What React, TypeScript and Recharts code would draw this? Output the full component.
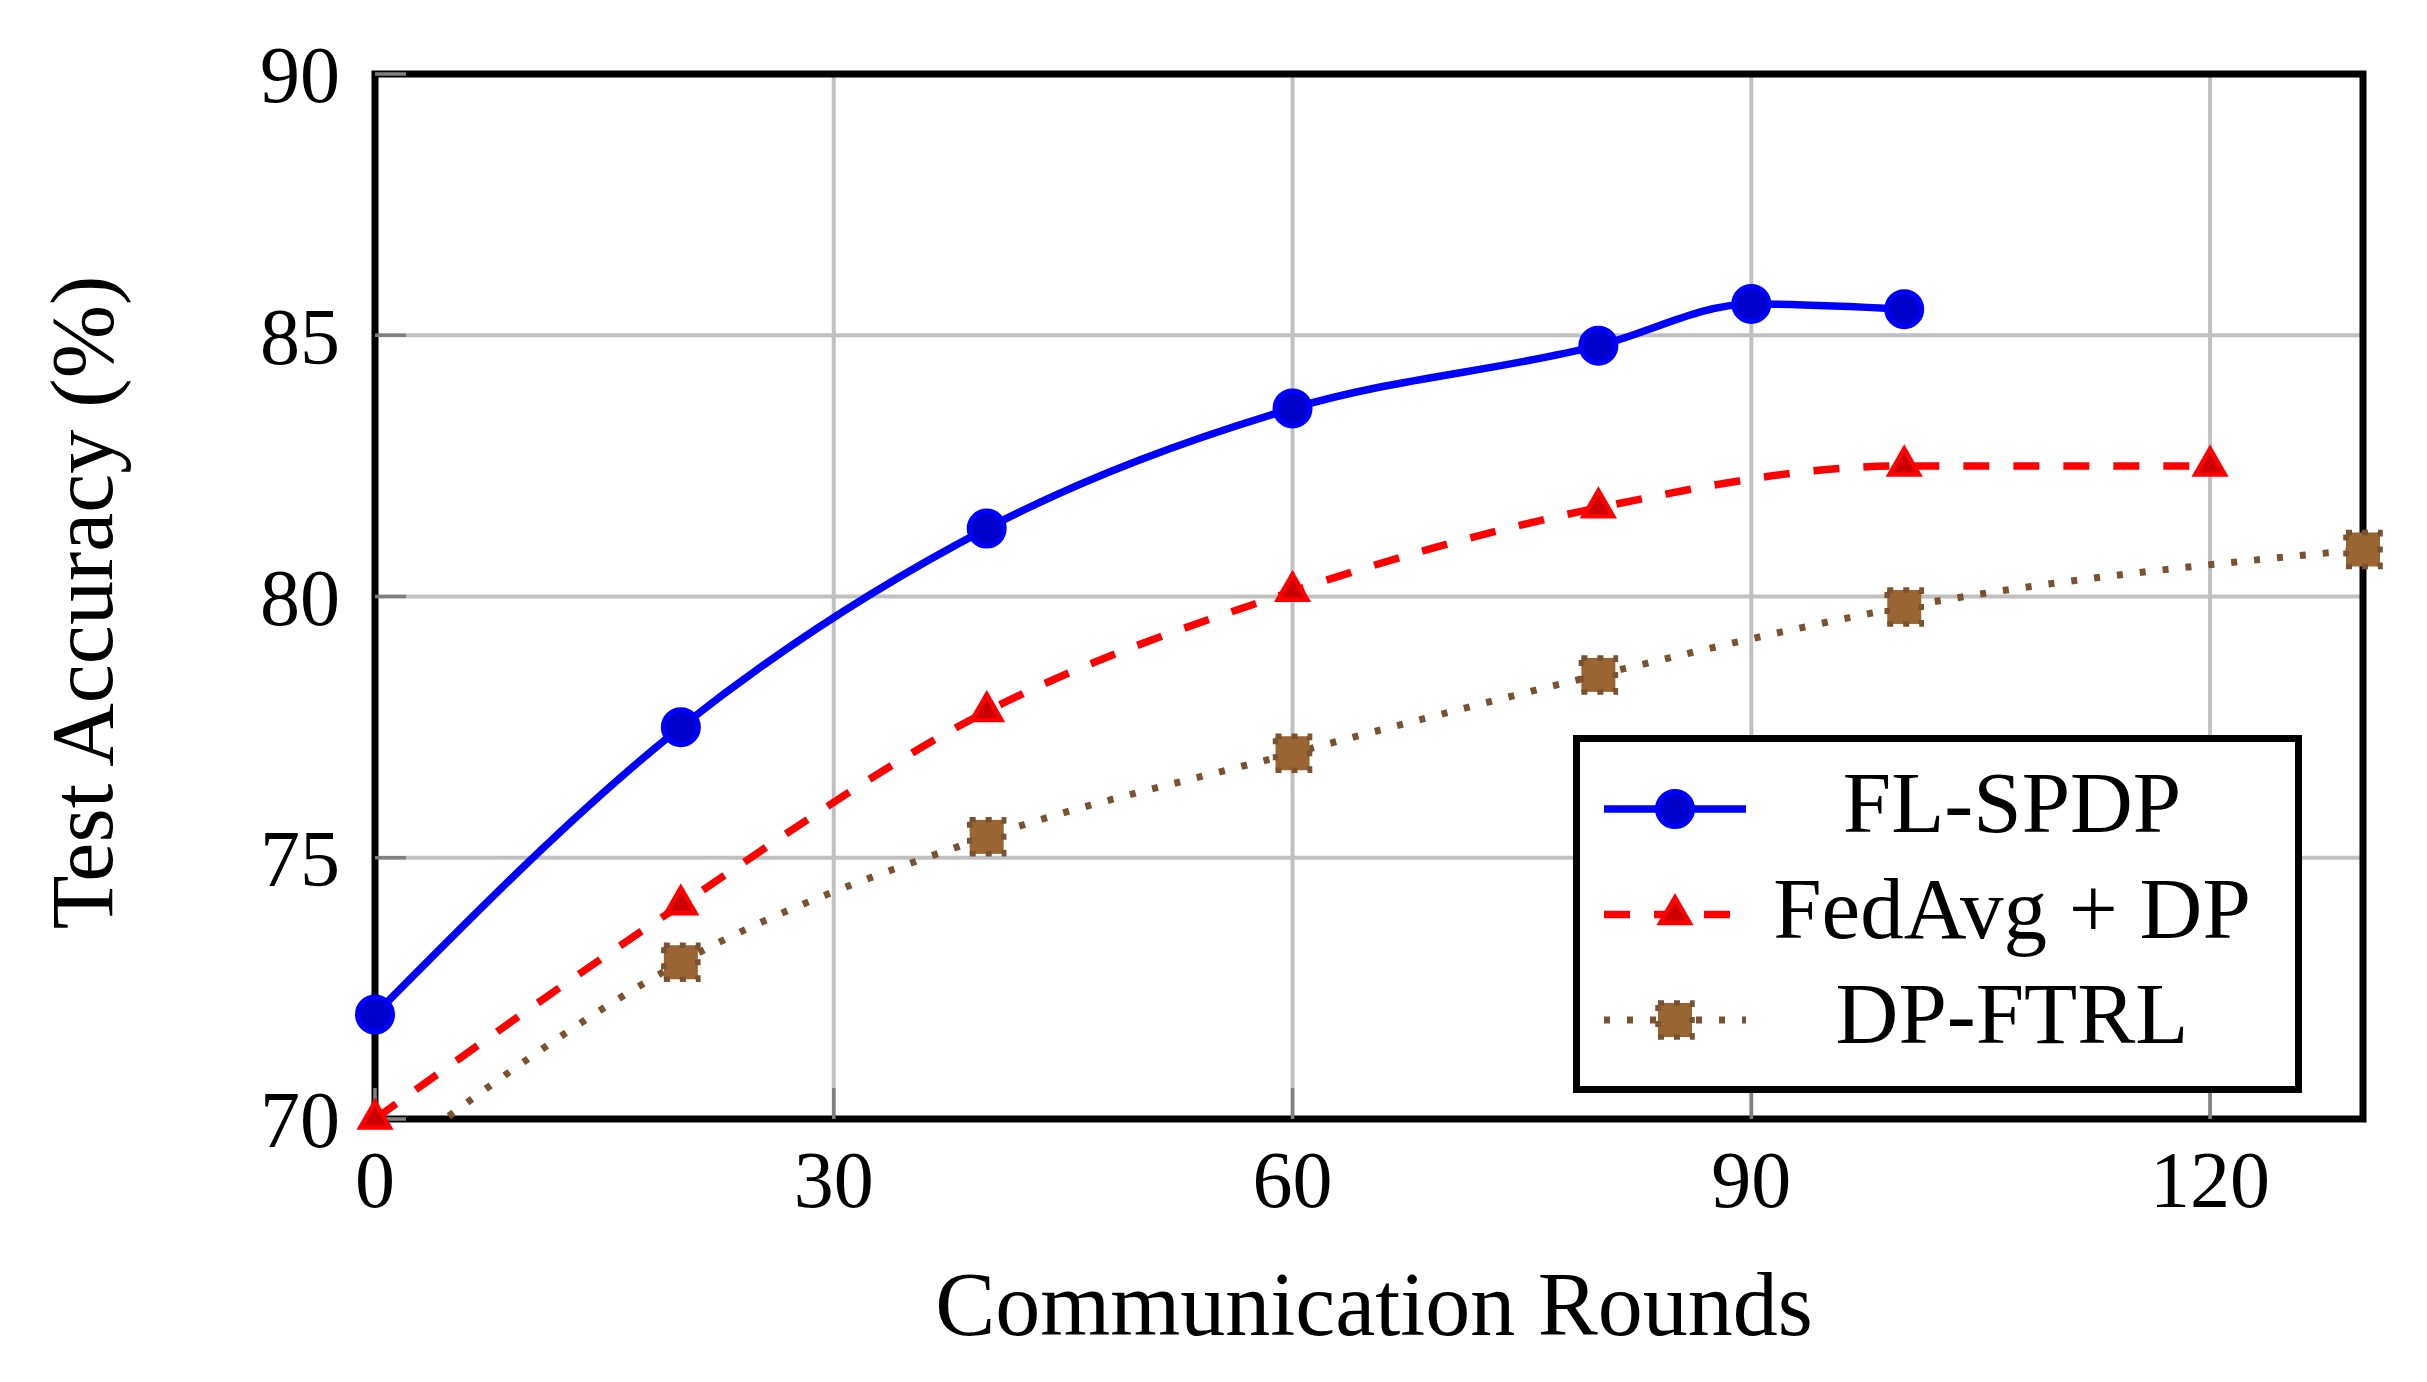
import React from 'react';
import { LineChart, Line, XAxis, YAxis, CartesianGrid, ReferenceArea, Legend, Label } from 'recharts';

const FONT = '"Liberation Serif", "Times New Roman", serif';

const xTicks = [0, 30, 60, 90, 120];
const yTicks = [70, 75, 80, 85, 90];

const flRounds = [0, 20, 40, 60, 80, 90, 100];
const flAccuracy = [72.0, 77.5, 81.3, 83.6, 84.8, 85.6, 85.5];
const fedRounds = [0, 20, 40, 60, 80, 100, 120];
const fedAccuracy = [70.0, 74.1, 77.8, 80.1, 81.7, 82.5, 82.5];
const ftrlRounds = [0, 20, 40, 60, 80, 100, 130];
const ftrlAccuracy = [69.0, 73.0, 75.4, 77.0, 78.5, 79.8, 80.9];

const seriesNames = ['FL-SPDP', 'FedAvg + DP', 'DP-FTRL'];

const toRows = (xs: number[], ys: number[]) => xs.map((x, i) => ({ x, y: ys[i] }));
const flData = toRows(flRounds, flAccuracy);
const fedData = toRows(fedRounds, fedAccuracy);
const ftrlData = toRows(ftrlRounds, ftrlAccuracy);
const ftrlMarkData = ftrlData.filter((d) => d.y >= yTicks[0]);

const BLUE = '#0000ff';
const RED = '#ff0000';
const BROWN = '#7a5230';

const CircleMark = ({ cx, cy }: any) => (
  <circle cx={cx} cy={cy} r={17.5} fill="#0000cc" stroke={BLUE} strokeWidth={5} />
);
const TriangleMark = ({ cx, cy }: any) => (
  <polygon
    points={`${cx},${cy - 17} ${cx + 14.7},${cy + 8.5} ${cx - 14.7},${cy + 8.5}`}
    fill="#cc0000"
    stroke={RED}
    strokeWidth={4.5}
    strokeLinejoin="miter"
  />
);
const SquareMark = ({ cx, cy }: any) => (
  <rect
    x={cx - 17}
    y={cy - 17}
    width={34}
    height={34}
    fill="#996633"
    stroke={BROWN}
    strokeWidth={5.5}
    strokeDasharray="6 10"
  />
);

const lineStyles: Record<string, { stroke: string; dash?: string; width: number; Mark: any }> = {
  'FL-SPDP': { stroke: BLUE, width: 7.5, Mark: CircleMark },
  'FedAvg + DP': { stroke: RED, dash: '26 24', width: 7.5, Mark: TriangleMark },
  'DP-FTRL': { stroke: BROWN, dash: '6 17', width: 7, Mark: SquareMark },
};

const renderLegend = () => (
  <svg width={729} height={358} style={{ display: 'block' }}>
    <rect x={3.5} y={3.5} width={722} height={351} fill="#ffffff" stroke="#000000" strokeWidth={7} />
    {seriesNames.map((name, i) => {
      const cy = 74 + i * 105.5;
      const s = lineStyles[name];
      const M = s.Mark;
      return (
        <g key={name}>
          <line x1={31} x2={173} y1={cy} y2={cy} stroke={s.stroke} strokeWidth={s.width} strokeDasharray={s.dash} />
          <M cx={102} cy={cy} />
          <text x={439} y={cy + 23} textAnchor="middle" fontFamily={FONT} fontSize={87} fill="#000">
            {name}
          </text>
        </g>
      );
    })}
  </svg>
);

const tickStyle = { fill: '#000000', fontSize: 80, fontFamily: FONT };
const tickLineStyle = { stroke: '#808080', strokeWidth: 3.5 };

export default function App() {
  const fl = lineStyles['FL-SPDP'];
  const fed = lineStyles['FedAvg + DP'];
  const ftrl = lineStyles['DP-FTRL'];
  return (
    <div style={{ position: 'absolute', left: 0, top: 0, background: '#fff' }}>
      <LineChart width={2427} height={1382} margin={{ top: 74, right: 64, bottom: 0, left: 0 }}>
        <CartesianGrid stroke="#c0c0c0" strokeWidth={4} verticalValues={xTicks} horizontalValues={yTicks} />
        <XAxis
          type="number"
          dataKey="x"
          domain={[0, 130]}
          ticks={xTicks}
          height={263}
          tick={tickStyle}
          tickSize={-31}
          tickMargin={62}
          tickLine={tickLineStyle}
          axisLine={false}
          allowDuplicatedCategory={false}
        >
          <Label
            content={({ viewBox }: any) => (
              <text
                x={viewBox.x + viewBox.width / 2 + 5}
                y={viewBox.y + 216}
                textAnchor="middle"
                fontFamily={FONT}
                fontSize={90}
                fill="#000"
              >
                Communication Rounds
              </text>
            )}
          />
        </XAxis>
        <XAxis
          xAxisId="top"
          orientation="top"
          type="number"
          domain={[0, 130]}
          ticks={xTicks}
          height={0}
          tick={false}
          tickSize={-31}
          tickLine={tickLineStyle}
          axisLine={false}
        />
        <YAxis
          type="number"
          domain={[70, 90]}
          ticks={yTicks}
          width={375}
          tick={tickStyle}
          tickSize={-31}
          tickMargin={66}
          tickLine={tickLineStyle}
          axisLine={false}
        >
          <Label
            content={({ viewBox }: any) => {
              const x = viewBox.x + 112;
              const y = viewBox.y + viewBox.height / 2 + 6;
              return (
                <text
                  x={x}
                  y={y}
                  transform={`rotate(-90, ${x}, ${y})`}
                  textAnchor="middle"
                  fontFamily={FONT}
                  fontSize={88}
                  fill="#000"
                >
                  Test Accuracy (%)
                </text>
              );
            }}
          />
        </YAxis>
        <YAxis
          yAxisId="right"
          orientation="right"
          type="number"
          domain={[70, 90]}
          ticks={yTicks}
          width={0}
          tick={false}
          tickSize={-31}
          tickLine={tickLineStyle}
          axisLine={false}
        />
        <YAxis yAxisId="clip" type="number" domain={[70, 90]} allowDataOverflow hide width={0} />
        <ReferenceArea x1={0} x2={130} y1={70} y2={90} fill="none" stroke="#000000" strokeWidth={7} ifOverflow="visible" />
        <Line
          data={flData}
          dataKey="y"
          name="FL-SPDP"
          type="monotone"
          stroke={fl.stroke}
          strokeWidth={fl.width}
          dot={(p: any) => <CircleMark key={p.index} cx={p.cx} cy={p.cy} />}
          activeDot={false}
          isAnimationActive={false}
        />
        <Line
          data={fedData}
          dataKey="y"
          name="FedAvg + DP"
          type="monotone"
          stroke={fed.stroke}
          strokeWidth={fed.width}
          strokeDasharray={fed.dash}
          dot={(p: any) => <TriangleMark key={p.index} cx={p.cx} cy={p.cy} />}
          activeDot={false}
          isAnimationActive={false}
        />
        <Line
          data={ftrlData}
          dataKey="y"
          name="DP-FTRL"
          yAxisId="clip"
          type="monotone"
          stroke={ftrl.stroke}
          strokeWidth={ftrl.width}
          strokeDasharray={ftrl.dash}
          dot={false}
          activeDot={false}
          isAnimationActive={false}
        />
        <Line
          data={ftrlMarkData}
          dataKey="y"
          name="DP-FTRL marks"
          legendType="none"
          type="monotone"
          stroke="none"
          dot={(p: any) => <SquareMark key={p.index} cx={p.cx} cy={p.cy} />}
          activeDot={false}
          isAnimationActive={false}
        />
        <Legend
          layout="horizontal"
          verticalAlign="middle"
          align="center"
          content={renderLegend}
          wrapperStyle={{ left: 1573, top: 735, width: 729, height: 358 }}
        />
      </LineChart>
    </div>
  );
}
